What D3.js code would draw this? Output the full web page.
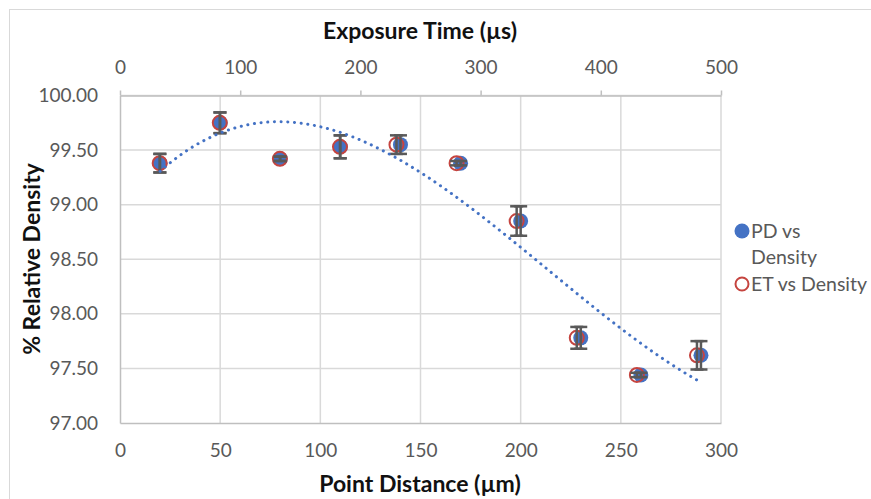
<!DOCTYPE html>
<html>
<head>
<meta charset="utf-8">
<script src="https://cdn.jsdelivr.net/npm/d3@7"></script>
<style>
  body { margin: 0; background: #fff; }
  text { font-family: Lato, "Open Sans", sans-serif; }
</style>
</head>
<body>
<svg id="chart" width="871" height="499"></svg>
<script>
const pointDistance = [20, 50, 80, 110, 140, 170, 200, 230, 260, 290]; // µm
const exposureTime = [33, 83, 133, 183, 230, 280, 330, 380, 430, 480]; // µs
const relDensity = [99.38, 99.75, 99.42, 99.53, 99.55, 99.38, 98.85, 97.78, 97.44, 97.62];
const densityErr = [0.085, 0.095, 0.02, 0.105, 0.085, 0.02, 0.135, 0.1, 0.02, 0.13];

const bottomTicks = [0, 50, 100, 150, 200, 250, 300];
const topTicks = [0, 100, 200, 300, 400, 500];
const yTicks = [97, 97.5, 98, 98.5, 99, 99.5, 100];

const MARGINS = { left: 120, right: 150, top: 95.5, bottom: 76 };
const WIDTH = 871;
const HEIGHT = 499;

const BLUE = "#4472c4";
const RED = "#c5443f";
const GRID = "#d9d9d9";
const AXIS = "#bfbfbf";
const LABEL = "#595959";
const TICK_FONT = 19;
const TITLE_FONT = 23;

const svg = d3.select("#chart");

// chart frame
svg.append("rect")
  .attr("x", 9.5).attr("y", 9.5)
  .attr("width", 900).attr("height", 600)
  .attr("fill", "#fff")
  .attr("stroke", "#d9d9d9")
  .attr("stroke-width", 1);

const x = d3.scaleLinear().domain([0, 300]).range([MARGINS.left, WIDTH - MARGINS.right]);
const xTop = d3.scaleLinear().domain([0, 500]).range([MARGINS.left, WIDTH - MARGINS.right]);
const y = d3.scaleLinear().domain([97, 100]).range([HEIGHT - MARGINS.bottom, MARGINS.top]);

// gridlines
const grid = svg.append("g");
grid.selectAll(".vgrid")
  .data(bottomTicks.slice(1))
  .join("line")
  .attr("x1", x).attr("x2", x)
  .attr("y1", y(97)).attr("y2", y(100))
  .attr("stroke", GRID).attr("stroke-width", 1.5);
grid.selectAll(".hgrid")
  .data(yTicks.slice(1))
  .join("line")
  .attr("x1", x(0)).attr("x2", x(300))
  .attr("y1", y).attr("y2", y)
  .attr("stroke", GRID).attr("stroke-width", 1.5);

// axes
const bottomAxis = d3.axisBottom(x).tickValues(bottomTicks).tickSize(0).tickPadding(21);
svg.append("g")
  .attr("transform", `translate(0, ${y(97)})`)
  .call(bottomAxis)
  .call(g => g.select(".domain").attr("stroke", AXIS).attr("stroke-width", 1.5))
  .call(g => g.selectAll("text").attr("fill", LABEL).attr("font-size", TICK_FONT).attr("font-family", null));

const topAxis = d3.axisTop(xTop).tickValues(topTicks).tickSize(5).tickSizeOuter(0).tickPadding(17);
svg.append("g")
  .attr("transform", `translate(0, ${y(100)})`)
  .call(topAxis)
  .call(g => g.select(".domain").attr("stroke", AXIS).attr("stroke-width", 1.5))
  .call(g => g.selectAll("line").attr("stroke", AXIS).attr("stroke-width", 1.5))
  .call(g => g.selectAll("text").attr("fill", LABEL).attr("font-size", TICK_FONT).attr("font-family", null));

const leftAxis = d3.axisLeft(y).tickValues(yTicks).tickSize(0).tickPadding(22).tickFormat(d3.format(".2f"));
svg.append("g")
  .attr("transform", `translate(${x(0)}, 0)`)
  .call(leftAxis)
  .call(g => g.select(".domain").attr("stroke", AXIS).attr("stroke-width", 1.5))
  .call(g => g.selectAll("text").attr("fill", LABEL).attr("font-size", TICK_FONT).attr("font-family", null));

// axis titles
svg.append("text")
  .attr("x", 420).attr("y", 39)
  .attr("text-anchor", "middle")
  .attr("font-size", TITLE_FONT).attr("font-weight", "bold").attr("fill", "#111")
  .text("Exposure Time (µs)");

svg.append("text")
  .attr("x", 420).attr("y", 492)
  .attr("text-anchor", "middle")
  .attr("font-size", TITLE_FONT).attr("font-weight", "bold").attr("fill", "#111")
  .text("Point Distance (µm)");

svg.append("text")
  .attr("transform", "translate(40, 259) rotate(-90)")
  .attr("text-anchor", "middle")
  .attr("font-size", TITLE_FONT).attr("font-weight", "bold").attr("fill", "#111")
  .text("% Relative Density");

// markers
const pdData = pointDistance.map((d, i) => ({ px: x(d), v: relDensity[i], e: densityErr[i] }));
const etData = exposureTime.map((d, i) => ({ px: xTop(d), v: relDensity[i], e: densityErr[i] }));

svg.append("g").selectAll("circle")
  .data(pdData)
  .join("circle")
  .attr("cx", d => d.px).attr("cy", d => y(d.v))
  .attr("r", 7.5)
  .attr("fill", BLUE);

svg.append("g").selectAll("circle")
  .data(etData)
  .join("circle")
  .attr("cx", d => d.px).attr("cy", d => y(d.v))
  .attr("r", 7)
  .attr("fill", "none")
  .attr("stroke", RED).attr("stroke-width", 2);

// error bars for both series
function drawErrors(data) {
  const g = svg.append("g")
    .attr("stroke", "#595959")
    .attr("stroke-width", 2.5);
  g.selectAll(".err")
    .data(data)
    .join("line")
    .attr("x1", d => d.px).attr("x2", d => d.px)
    .attr("y1", d => y(d.v - d.e)).attr("y2", d => y(d.v + d.e));
  g.selectAll(".cap-top")
    .data(data)
    .join("line")
    .attr("x1", d => d.px - 6.5).attr("x2", d => d.px + 6.5)
    .attr("y1", d => y(d.v + d.e)).attr("y2", d => y(d.v + d.e));
  g.selectAll(".cap-bot")
    .data(data)
    .join("line")
    .attr("x1", d => d.px - 6.5).attr("x2", d => d.px + 6.5)
    .attr("y1", d => y(d.v - d.e)).attr("y2", d => y(d.v - d.e));
}
drawErrors(pdData);
drawErrors(etData);

// polynomial (order 3) trendline fitted to the PD series
function polyFit(xs, ys, order) {
  const n = order + 1;
  const A = Array.from({ length: n }, () => new Array(n + 1).fill(0));
  xs.forEach((xv, k) => {
    for (let i = 0; i < n; i++) {
      for (let j = 0; j < n; j++) A[i][j] += Math.pow(xv, i + j);
      A[i][n] += ys[k] * Math.pow(xv, i);
    }
  });
  for (let c = 0; c < n; c++) {
    let p = c;
    for (let r = c + 1; r < n; r++) if (Math.abs(A[r][c]) > Math.abs(A[p][c])) p = r;
    [A[c], A[p]] = [A[p], A[c]];
    for (let r = 0; r < n; r++) {
      if (r === c) continue;
      const f = A[r][c] / A[c][c];
      for (let j = c; j <= n; j++) A[r][j] -= f * A[c][j];
    }
  }
  return A.map((row, i) => row[n] / row[i]);
}

const scaledX = pointDistance.map(d => d / 100);
const coef = polyFit(scaledX, relDensity, 3);
const trendX = d3.range(pointDistance[0], pointDistance[pointDistance.length - 1] + 0.01, 2);
const trend = trendX.map(t => [t, coef.reduce((s, c, i) => s + c * Math.pow(t / 100, i), 0)]);

svg.append("path")
  .datum(trend)
  .attr("d", d3.line().x(d => x(d[0])).y(d => y(d[1])))
  .attr("fill", "none")
  .attr("stroke", BLUE)
  .attr("stroke-width", 3)
  .attr("stroke-linecap", "round")
  .attr("stroke-dasharray", "0.1 6.6");

// legend
const legend = svg.append("g").attr("transform", "translate(742, 0)");
legend.append("circle").attr("cx", 0).attr("cy", 231).attr("r", 7.5).attr("fill", BLUE);
legend.append("circle").attr("cx", 0).attr("cy", 284).attr("r", 6.5)
  .attr("fill", "none").attr("stroke", RED).attr("stroke-width", 2);
const legendText = [
  { t: "PD vs", y: 231 },
  { t: "Density", y: 257.5 },
  { t: "ET vs Density", y: 284 },
];
legend.selectAll("text")
  .data(legendText)
  .join("text")
  .attr("x", 9).attr("y", d => d.y)
  .attr("dy", "0.35em")
  .attr("font-size", 19.5)
  .attr("fill", LABEL)
  .text(d => d.t);
</script>
</body>
</html>
